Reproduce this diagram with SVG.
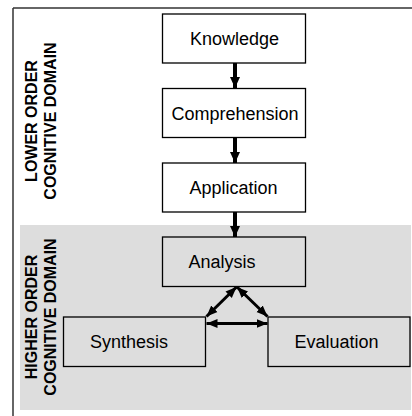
<svg xmlns="http://www.w3.org/2000/svg" width="412" height="416" viewBox="0 0 412 416">
<style>
.box{fill:#fff;stroke:#000;stroke-width:1.3}
.gbox{fill:none;stroke:#000;stroke-width:1.3}
.lbl{font-family:"Liberation Sans",Arial,sans-serif;font-size:18px;fill:#000;text-anchor:middle}
.side{font-family:"Liberation Sans",Arial,sans-serif;font-size:16px;font-weight:bold;fill:#000;text-anchor:middle}
.conn{stroke:#000;stroke-width:4;fill:none}
.dconn{stroke:#000;stroke-width:3;fill:none}
</style>
<defs>
<marker id="ah" markerUnits="userSpaceOnUse" markerWidth="12" markerHeight="12" viewBox="0 0 12 12" refX="11" refY="6" orient="auto">
<path d="M0,1 L11,6 L0,11 Z" fill="#000"/>
</marker>
<marker id="ah2" markerUnits="userSpaceOnUse" markerWidth="12" markerHeight="12" viewBox="0 0 12 12" refX="11" refY="6" orient="auto-start-reverse">
<path d="M0,1.5 L11,6 L0,10.5 Z" fill="#000"/>
</marker>
</defs>
<rect id="higher-region" x="20" y="225" width="391" height="185" fill="#dddddd"/>
<g id="frame">
<line x1="13" y1="8" x2="412" y2="8" stroke="#333" stroke-width="1.5"/>
<line x1="13" y1="8" x2="13" y2="416" stroke="#333" stroke-width="1.5"/>
</g>
<g id="lower-label">
<text class="side" transform="translate(37,121) rotate(-90)">LOWER ORDER</text>
<text class="side" transform="translate(56,121) rotate(-90)">COGNITIVE DOMAIN</text>
</g>
<g id="higher-label">
<text class="side" transform="translate(37,317) rotate(-90)">HIGHER ORDER</text>
<text class="side" transform="translate(56,317) rotate(-90)">COGNITIVE DOMAIN</text>
</g>
<g id="knowledge">
<rect class="box" x="162.5" y="14" width="143" height="49"/>
<text class="lbl" x="234.5" y="45">Knowledge</text>
</g>
<g id="comprehension">
<rect class="box" x="162.5" y="88.5" width="143" height="49"/>
<text class="lbl" x="235" y="120">Comprehension</text>
</g>
<g id="application">
<rect class="box" x="162.5" y="163" width="143" height="49"/>
<text class="lbl" x="233.5" y="194">Application</text>
</g>
<g id="analysis">
<rect class="gbox" x="162.5" y="237" width="143" height="49.5"/>
<text class="lbl" x="222" y="268">Analysis</text>
</g>
<g id="synthesis">
<rect class="gbox" x="63.5" y="317" width="142" height="49.5"/>
<text class="lbl" x="129" y="348">Synthesis</text>
</g>
<g id="evaluation">
<rect class="gbox" x="268" y="317" width="142" height="49.5"/>
<text class="lbl" x="336.5" y="348">Evaluation</text>
</g>
<g id="connectors">
<line class="conn" x1="235" y1="63" x2="235" y2="88" marker-end="url(#ah)"/>
<line class="conn" x1="235" y1="138" x2="235" y2="163" marker-end="url(#ah)"/>
<line class="conn" x1="235" y1="212" x2="235" y2="237" marker-end="url(#ah)"/>
<line class="dconn" x1="236.5" y1="287" x2="206.5" y2="316.5" marker-start="url(#ah2)" marker-end="url(#ah2)"/>
<line class="dconn" x1="237" y1="287" x2="267.5" y2="316.5" marker-start="url(#ah2)" marker-end="url(#ah2)"/>
<line class="dconn" x1="206.5" y1="323.5" x2="267.5" y2="323.5" marker-start="url(#ah2)" marker-end="url(#ah2)"/>
</g>
</svg>
